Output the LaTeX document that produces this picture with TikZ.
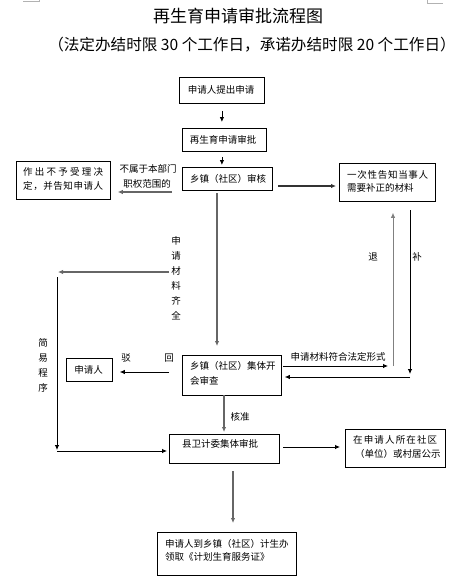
\documentclass[tikz,border=0pt]{standalone}
\usepackage{fontspec}
\setmainfont{Noto Sans CJK SC}
\usetikzlibrary{arrows.meta}
\makeatletter
\def\spr@a#1{#1\spr@b}
\def\spr@b#1{\ifx\relax#1\else\hfil#1\expandafter\spr@b\fi}
\newcommand\spr[2]{\makebox[#1][s]{\spr@a#2\relax}}
\makeatother
\tikzset{
  box/.style={draw, line width=0.8pt, inner sep=0pt, anchor=north west},
  txt/.style={inner sep=0pt, font=\fontsize{9.5}{12}\selectfont, text height=7.8pt, text depth=1.2pt},
  ltxt/.style={txt, anchor=west},
  arr/.style={-{Latex[length=5pt,width=4.5pt]}, line width=0.8pt},
  garr/.style={arr, draw=black!60, line width=1.6pt},
  cornermark/.style={draw=black!30, line width=0.8pt},
}
\begin{document}
\begin{tikzpicture}[x=1pt,y=-1pt]
\useasboundingbox (0,0) rectangle (461,587);
% page corner marks
\draw[cornermark] (23,1.5) -- (39,1.5) -- (39,0);
\draw[cornermark] (427,0) -- (427,3) -- (443,3);
% titles
\node[inner sep=0pt, font=\fontsize{17}{18}\selectfont] (t1) at (238,16) {再生育申请审批流程图};
\node[inner sep=0pt, font=\fontsize{15.6}{18}\selectfont] (t2) at (252,45) {（法定办结时限 30 个工作日，承诺办结时限 20 个工作日）};
% boxes
\node[box, minimum width=85pt, minimum height=26pt] (a) at (179,77) {};
\node[box, minimum width=84pt, minimum height=23pt] (b) at (182,128) {};
\node[box, minimum width=90pt, minimum height=23pt] (c) at (182,167) {};
\node[box, minimum width=94pt, minimum height=38pt] (d) at (16,161) {};
\node[box, minimum width=96pt, minimum height=38pt] (e) at (339,163) {};
\node[box, minimum width=46pt, minimum height=23pt] (h) at (66,358) {};
\node[box, minimum width=99pt, minimum height=40pt] (f) at (182,355) {};
\node[box, minimum width=110pt, minimum height=29pt] (g) at (169,434) {};
\node[box, minimum width=100pt, minimum height=38pt] (i) at (345,429) {};
\node[box, minimum width=139pt, minimum height=43pt] (j) at (157,532) {};
% box texts
\node[txt] (at) at (221,90) {申请人提出申请};
\node[txt] (bt) at (223,140) {再生育申请审批};
\node[txt] (ct) at (228,179) {乡镇（社区）审核};
\node[ltxt] (dt1) at (23,172) {\spr{80pt}{作出不予受理决}};
\node[ltxt] (dt2) at (23,186) {\spr{80pt}{定，并告知申请人}};
\node[ltxt] (et1) at (347,175) {\spr{81pt}{一次性告知当事人}};
\node[ltxt] (et2) at (347,188) {需要补正的材料};
\node[txt] (ht) at (88.5,370) {申请人};
\node[ltxt] (ft1) at (190,366) {乡镇（社区）集体开};
\node[ltxt] (ft2) at (190,381) {会审查};
\node[ltxt] (gt) at (182,444) {县卫计委集体审批};
\node[ltxt] (it1) at (353,440) {\spr{84pt}{在申请人所在社区}};
\node[ltxt] (it2) at (355,454) {\spr{82pt}{（单位）或村居公示}};
\node[ltxt] (jt1) at (165,544) {申请人到乡镇（社区）计生办};
\node[ltxt] (jt2) at (165,557) {领取《计划生育服务证》};
% labels
\node[txt] (l1) at (148,169) {不属于本部门};
\node[txt] (l2) at (147,184) {职权范围的};
\node[inner sep=0pt, align=center, font=\fontsize{9.5}{15}\selectfont] (l3) at (176,278.5) {申\\请\\材\\料\\齐\\全};
\node[inner sep=0pt, align=center, font=\fontsize{9.5}{15}\selectfont] (l4) at (43,365.5) {简\\易\\程\\序};
\node[txt] (l5) at (126,358) {驳};
\node[txt] (l6) at (169,358) {回};
\node[txt] (l7) at (338,357) {申请材料符合法定形式};
\node[txt] (l8) at (373,257) {退};
\node[txt] (l9) at (417,257) {补};
\node[txt] (l10) at (240,417) {核准};
% connectors
\draw[arr, shorten <=7pt, shorten >=6pt] (a.south) -- (a.south |- b.north);
\draw[arr, shorten <=5pt, shorten >=2pt] (a.south |- b.south) -- (a.south |- c.north);
\coordinate (cd) at (172,192);
\draw[garr, shorten >=7pt] (cd) -- (d.east |- cd);
\coordinate (ce) at (278,186);
\draw[garr, draw=black!80, line width=1.2pt, shorten >=3pt] (ce) -- (e.west |- ce);
\coordinate (cf) at (217,193);
\draw[garr, shorten >=9pt] (cf) -- (cf |- f.north);
\coordinate (lb1) at (169,272);
\coordinate (lb2) at (58,272);
\draw[garr] (lb1) -- (lb2);
\coordinate (lb3) at (57,277);
\coordinate (lb4) at (57,450);
\draw[arr] (lb3) -- (lb4);
\coordinate (lb5) at (57,451);
\draw[arr, shorten >=2pt] (lb5) -- (g.west |- lb5);
\coordinate (fh) at (169,372);
\draw[arr, shorten >=7pt] (fh) -- (h.east |- fh);
\coordinate (fr1) at (283,366);
\coordinate (fr2) at (388,366);
\draw[arr] (fr1) -- (fr2);
\coordinate (tu) at (393,366);
\draw[arr, draw=black!50, shorten >=11pt] (tu) -- (tu |- e.south);
\coordinate (bu1) at (410,210);
\coordinate (bu2) at (410,374);
\draw[arr] (bu1) -- (bu2);
\coordinate (bu3) at (410,377);
\draw[arr, shorten >=3pt] (bu3) -- (f.east |- bu3);
\coordinate (fg) at (224,395);
\draw[garr, shorten >=2pt] (fg) -- (fg |- g.north);
\coordinate (gi) at (283,447);
\draw[arr, shorten >=5pt] (gi) -- (i.west |- gi);
\coordinate (gj) at (233,471);
\draw[garr, shorten >=9pt] (gj) -- (gj |- j.north);
\end{tikzpicture}
\end{document}
